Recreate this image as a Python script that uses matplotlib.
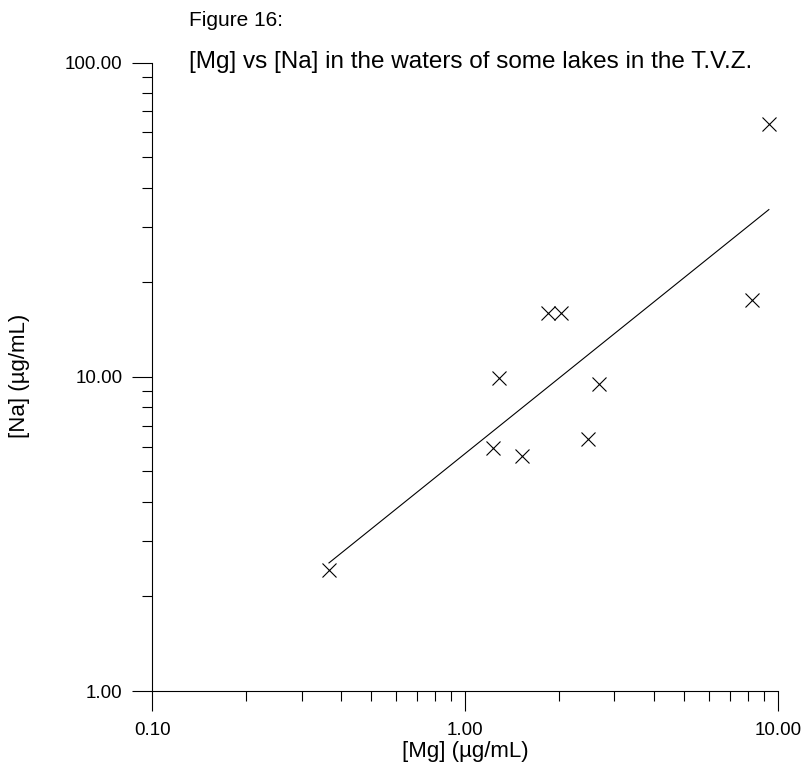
import numpy as np
import matplotlib
matplotlib.use("Agg")
import matplotlib.pyplot as plt
from matplotlib.ticker import LogLocator, FixedLocator, FixedFormatter, NullFormatter

plt.rcParams['font.family'] = ['Liberation Sans', 'DejaVu Sans']

# Data: [Mg] and [Na] (ug/mL) in lake waters
mg = [0.367, 1.229, 1.284, 1.525, 1.837, 2.022, 2.47, 2.673, 8.26, 9.35]
na = [2.43, 5.93, 9.91, 5.60, 15.99, 15.99, 6.33, 9.48, 17.5, 63.9]

x_ticks = [0.1, 1.0, 10.0]
x_tick_labels = ["0.10", "1.00", "10.00"]
y_ticks = [1.0, 10.0, 100.0]
y_tick_labels = ["1.00", "10.00", "100.00"]

W, H = 807, 772
fig = plt.figure(figsize=(W / 100, H / 100), dpi=100)
ax = fig.add_axes([152.3 / W, 1 - 691 / H, (778 - 152.3) / W, (691 - 62.7) / H])

ax.set_xscale('log')
ax.set_yscale('log')
ax.set_xlim(0.1, 10)
ax.set_ylim(1, 100)

# scatter points
ax.plot(mg, na, linestyle='none', marker='x', color='black',
        markersize=9.5, markeredgewidth=0.8, clip_on=False)

# least-squares fit in log-log space
lx = np.log10(mg)
ly = np.log10(na)
slope, intercept = np.polyfit(lx, ly, 1)
xs = np.array([min(mg), max(mg)])
ys = 10 ** (intercept + slope * np.log10(xs))
ax.plot(xs, ys, color='black', linewidth=0.8)

for s in ['top', 'right']:
    ax.spines[s].set_visible(False)
for s in ['left', 'bottom']:
    ax.spines[s].set_linewidth(0.8)
    ax.spines[s].set_color('black')

ax.xaxis.set_major_locator(FixedLocator(x_ticks))
ax.xaxis.set_major_formatter(FixedFormatter(x_tick_labels))
ax.yaxis.set_major_locator(FixedLocator(y_ticks))
ax.yaxis.set_major_formatter(FixedFormatter(y_tick_labels))
ax.xaxis.set_minor_locator(LogLocator(base=10, subs=np.arange(2, 10)))
ax.yaxis.set_minor_locator(LogLocator(base=10, subs=np.arange(2, 10)))
ax.xaxis.set_minor_formatter(NullFormatter())
ax.yaxis.set_minor_formatter(NullFormatter())

ax.tick_params(which='major', direction='out', length=14.4, width=0.8,
               labelsize=13.5, color='black')
ax.tick_params(which='minor', direction='out', length=7.2, width=0.8, color='black')
ax.tick_params(axis='x', which='major', pad=8)
ax.tick_params(axis='y', which='major', pad=7)

fig.text(189 / W, 1 - 21 / H, "Figure 16:", fontsize=15, ha='left', va='center')
fig.text(189 / W, 1 - 62 / H, "[Mg] vs [Na] in the waters of some lakes in the T.V.Z.",
         fontsize=17.5, ha='left', va='center')
fig.text(465 / W, 1 - 751 / H, "[Mg] (\u00b5g/mL)", fontsize=16, ha='center', va='center')
fig.text(20 / W, 1 - 376 / H, "[Na] (\u00b5g/mL)", fontsize=16, ha='center', va='center',
         rotation=90)

fig.savefig("out.png", dpi=100)
